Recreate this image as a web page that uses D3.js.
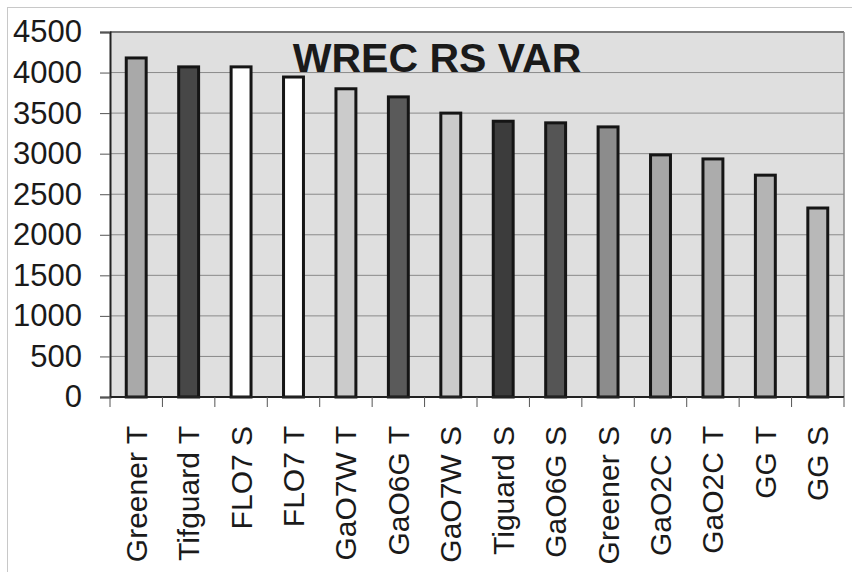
<!DOCTYPE html>
<html>
<head>
<meta charset="utf-8">
<script src="https://cdn.jsdelivr.net/npm/d3@7"></script>
<style>
  html, body { margin: 0; padding: 0; background: #ffffff; }
  svg { display: block; }
</style>
</head>
<body>
<svg id="chart" width="852" height="572"></svg>
<script>
const categories = ["Greener T", "Tifguard T", "FLO7 S", "FLO7 T", "GaO7W T", "GaO6G T", "GaO7W S", "Tiguard S", "GaO6G S", "Greener S", "GaO2C S", "GaO2C T", "GG T", "GG S"];
const values = [4180, 4070, 4070, 3945, 3800, 3700, 3500, 3400, 3380, 3330, 2985, 2935, 2735, 2330];
const yTicks = [0, 500, 1000, 1500, 2000, 2500, 3000, 3500, 4000, 4500];
const barColors = ["#a9a9a9", "#474747", "#ffffff", "#ffffff", "#cbcbcb", "#5a5a5a", "#cbcbcb", "#3c3c3c", "#555555", "#8c8c8c", "#a6a6a6", "#acacac", "#b4b4b4", "#b8b8b8"];
const title = "WREC RS VAR";

const svg = d3.select("#chart");
const plot = { left: 110, right: 844, top: 32, bottom: 397 };

// outer chart border (light)
svg.append("rect").attr("x", 7.5).attr("y", 7.5).attr("width", 900).attr("height", 700)
  .attr("fill", "none").attr("stroke", "#c8c8c8").attr("stroke-width", 1);

const x = d3.scaleBand().domain(categories).range([plot.left, plot.right]).paddingInner(0.62).paddingOuter(0.31);
const y = d3.scaleLinear().domain([0, 4500]).range([plot.bottom, plot.top]);

// plot background
svg.append("rect").attr("x", plot.left).attr("y", plot.top)
  .attr("width", plot.right - plot.left).attr("height", plot.bottom - plot.top)
  .attr("fill", "#dfdfdf");

// gridlines
svg.append("g").selectAll("line").data(yTicks.filter(d => d > 0)).join("line")
  .attr("x1", plot.left).attr("x2", plot.right)
  .attr("y1", d => y(d)).attr("y2", d => y(d))
  .attr("stroke", "#8a8a8a").attr("stroke-width", 1);

// plot border top/right
svg.append("line").attr("x1", plot.left).attr("x2", plot.right).attr("y1", plot.top).attr("y2", plot.top)
  .attr("stroke", "#7a7a7a").attr("stroke-width", 2);
svg.append("line").attr("x1", plot.right).attr("x2", plot.right).attr("y1", plot.top).attr("y2", plot.bottom)
  .attr("stroke", "#8a8a8a").attr("stroke-width", 1.5);

// title
svg.append("text").attr("x", 437).attr("y", 72).attr("text-anchor", "middle")
  .attr("font-family", "Liberation Sans, Arial, sans-serif").attr("font-weight", "bold")
  .attr("font-size", 41).attr("fill", "#1a1a1a").text(title);

// bars
svg.append("g").selectAll("rect").data(categories).join("rect")
  .attr("x", d => x(d))
  .attr("y", (d, i) => y(values[i]))
  .attr("width", x.bandwidth())
  .attr("height", (d, i) => y(0) - y(values[i]))
  .attr("fill", (d, i) => barColors[i])
  .attr("stroke", "#151515").attr("stroke-width", 3);

// y axis
const yAxis = d3.axisLeft(y).tickValues(yTicks).tickSize(10).tickPadding(18).tickFormat(d3.format("d"));
const gy = svg.append("g").attr("transform", `translate(${plot.left},0)`).call(yAxis);
gy.select(".domain").attr("stroke", "#222").attr("stroke-width", 2);
gy.selectAll(".tick line").attr("stroke", "#555").attr("stroke-width", 1);
gy.selectAll(".tick text").attr("font-family", "Liberation Sans, Arial, sans-serif")
  .attr("font-size", 31).attr("fill", "#1a1a1a");

// x axis: domain line and tick marks at band boundaries
const boundaries = d3.range(categories.length + 1).map(i => plot.left + i * (plot.right - plot.left) / categories.length);
svg.append("line").attr("x1", plot.left).attr("x2", plot.right).attr("y1", plot.bottom).attr("y2", plot.bottom)
  .attr("stroke", "#222").attr("stroke-width", 2);
svg.append("g").selectAll("line").data(boundaries).join("line")
  .attr("x1", d => d).attr("x2", d => d).attr("y1", plot.bottom).attr("y2", plot.bottom + 10)
  .attr("stroke", "#555").attr("stroke-width", 1);

// x labels rotated
svg.append("g").selectAll("text").data(categories).join("text")
  .attr("transform", d => `translate(${x(d) + x.bandwidth() / 2},${plot.bottom + 29}) rotate(-90)`)
  .attr("dy", "0.35em")
  .attr("text-anchor", "end")
  .attr("font-family", "Liberation Sans, Arial, sans-serif")
  .attr("font-size", 30).attr("fill", "#1a1a1a")
  .text(d => d);
</script>
</body>
</html>
